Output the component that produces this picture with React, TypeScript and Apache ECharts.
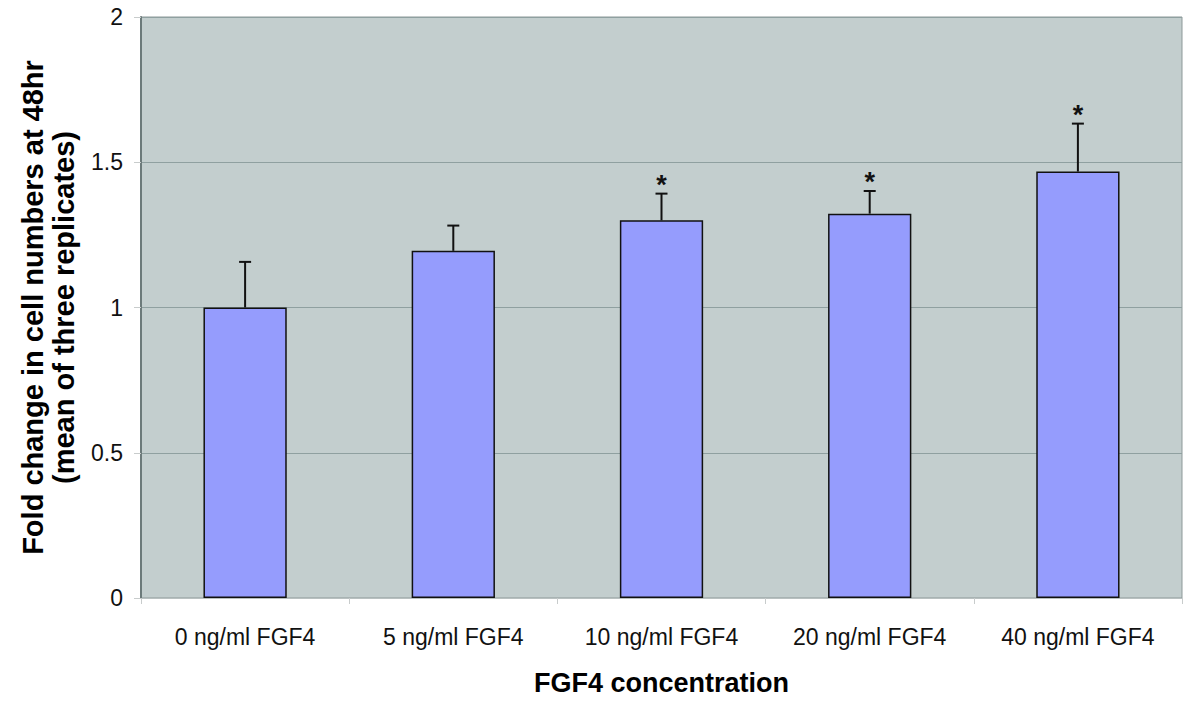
import React, { useEffect, useRef } from "react";
import * as echarts from "echarts";

const categories = ["0 ng/ml FGF4", "5 ng/ml FGF4", "10 ng/ml FGF4", "20 ng/ml FGF4", "40 ng/ml FGF4"];
const means = [1.0, 1.195, 1.3, 1.323, 1.468];
const errorTops = [1.157, 1.282, 1.392, 1.401, 1.633];
const significant = [false, false, true, true, true];
const yTicks = [0, 0.5, 1, 1.5, 2];

export default function App() {
  const ref = useRef<HTMLDivElement>(null);
  useEffect(() => {
    const chart = echarts.init(ref.current!, null, { renderer: "svg" });
    const errData = categories.map((c, i) => [i, means[i], errorTops[i], significant[i] ? 1 : 0]);
    chart.setOption({
      animation: false,
      textStyle: { fontFamily: "Liberation Sans, Arial, sans-serif" },
      grid: {
        left: 141,
        right: 18,
        top: 17,
        bottom: 113,
        containLabel: false,
        outerBoundsMode: "none",
        show: true,
        backgroundColor: "#c3cece",
        borderColor: "#8d9999",
        borderWidth: 1,
      },
      xAxis: {
        type: "category",
        data: categories,
        name: "FGF4 concentration",
        nameLocation: "middle",
        nameGap: 71,
        nameTextStyle: { fontSize: 27, fontWeight: "bold", color: "#000" },
        axisLine: { show: true, lineStyle: { color: "#b8c0c0", width: 1 } },
        axisTick: { show: true, length: 6, lineStyle: { color: "#c8cccc" } },
        axisLabel: { fontSize: 23, color: "#111", margin: 27 },
      },
      yAxis: {
        type: "value",
        min: 0,
        max: 2,
        interval: 0.5,
        name: "Fold change in cell numbers at 48hr\n(mean of three replicates)",
        nameLocation: "middle",
        nameGap: 62,
        nameTextStyle: { fontSize: 29, fontWeight: "bold", color: "#000", lineHeight: 31 },
        axisLine: { show: true, lineStyle: { color: "#6c7a7a", width: 2 } },
        axisTick: { show: true, length: 7, lineStyle: { color: "#c8cccc" } },
        axisLabel: {
          fontSize: 23,
          color: "#111",
          margin: 18,
          formatter: (v: number) => (yTicks.includes(v) ? String(v) : ""),
        },
        splitLine: { show: true, lineStyle: { color: "#8fa0a0", width: 1 } },
      },
      series: [
        {
          type: "bar",
          data: means,
          barWidth: "40%",
          itemStyle: { color: "#959cfd", borderColor: "#111", borderWidth: 1.5 },
          z: 2,
        },
        {
          type: "custom",
          data: errData,
          z: 3,
          renderItem: (params: any, api: any) => {
            const x = api.value(0);
            const base = api.coord([x, api.value(1)]);
            const top = api.coord([x, api.value(2)]);
            const children: any[] = [
              {
                type: "line",
                shape: { x1: base[0], y1: base[1], x2: top[0], y2: top[1] },
                style: { stroke: "#111", lineWidth: 2 },
              },
              {
                type: "line",
                shape: { x1: top[0] - 6, y1: top[1], x2: top[0] + 6, y2: top[1] },
                style: { stroke: "#111", lineWidth: 2 },
              },
            ];
            if (api.value(3) === 1) {
              children.push({
                type: "text",
                style: {
                  text: "*",
                  x: top[0],
                  y: top[1] - 9,
                  fill: "#111",
                  fontSize: 27,
                  fontWeight: "bold",
                  fontFamily: "Liberation Sans, Arial, sans-serif",
                  align: "center",
                  verticalAlign: "middle",
                },
              });
            }
            return { type: "group", children };
          },
        },
      ],
    });
    return () => chart.dispose();
  }, []);
  return <div ref={ref} style={{ width: 1200, height: 711, position: "absolute", left: 0, top: 0 }} />;
}
